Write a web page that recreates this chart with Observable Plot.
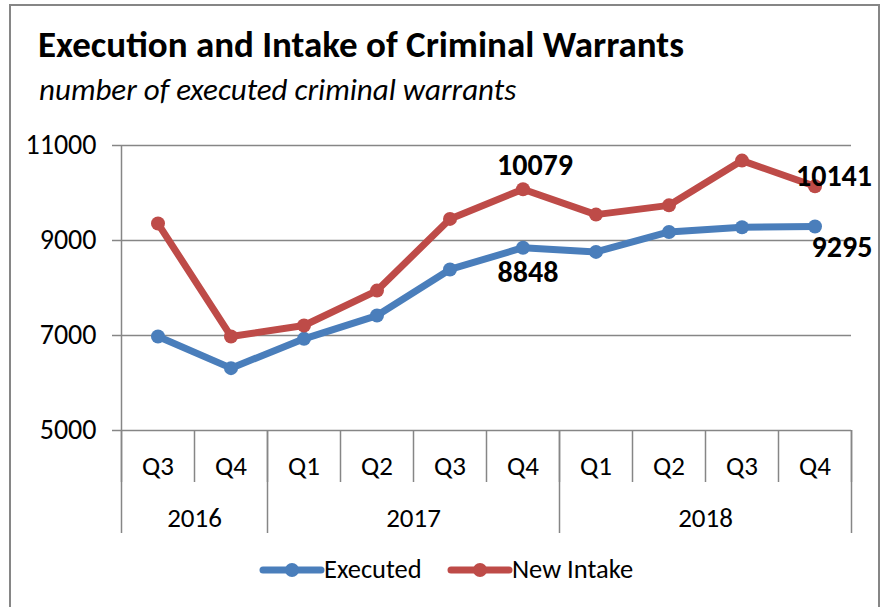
<!DOCTYPE html>
<html>
<head>
<meta charset="utf-8">
<script src="https://cdn.jsdelivr.net/npm/d3@7"></script>
<script src="https://cdn.jsdelivr.net/npm/@observablehq/plot@0.6"></script>
<style>
  html, body { margin: 0; padding: 0; background: #fff; overflow: hidden; }
  #wrap { position: relative; width: 883px; height: 607px; overflow: hidden; font-family: Carlito, Lato, sans-serif; }
  #wrap > svg { position: absolute; left: 0; top: 0; }
</style>
</head>
<body>
<div id="wrap"></div>
<script>
// ---- data ----
const quarters = ["Q3", "Q4", "Q1", "Q2", "Q3", "Q4", "Q1", "Q2", "Q3", "Q4"];
const years = ["2016", "2016", "2017", "2017", "2017", "2017", "2018", "2018", "2018", "2018"];
const executed = [6980, 6313, 6930, 7420, 8390, 8848, 8760, 9180, 9278, 9295];
const newIntake = [9357, 6980, 7210, 7945, 9455, 10079, 9545, 9740, 10682, 10141];
const yTicks = [5000, 7000, 9000, 11000];
const seriesNames = ["Executed", "New Intake"];
const titleText = "Execution and Intake of Criminal Warrants";
const subtitleText = "number of executed criminal warrants";

// ---- derived table ----
const rows = quarters.map((q, i) => ({i, x: i + 0.5, q, year: years[i], executed: executed[i], newIntake: newIntake[i]}));
const n = quarters.length;
const sepTicks = d3.range(0, n + 1);
const yearGroups = d3.groups(rows, d => d.year).map(([year, rs]) => ({year, start: rs[0].i, end: rs[rs.length - 1].i + 1}));
const yearBounds = [0, ...yearGroups.map(g => g.end)];
const yearCenters = yearGroups.map(g => (g.start + g.end) / 2);
const yearByCenter = new Map(yearGroups.map(g => [(g.start + g.end) / 2, g.year]));

const BLUE = "#4a7ebb", RED = "#be4b48", GRID = "#868686";
const FONT = "Carlito, Lato, sans-serif";
const last = n - 1;
const peak = rows.findIndex(r => r.newIntake === 10079);

const chart = Plot.plot({
  width: 883,
  height: 607,
  marginLeft: 121,
  marginRight: 32,
  marginTop: 145,
  marginBottom: 177,
  style: {fontFamily: FONT, fontSize: "27px", color: "#000", background: "transparent", overflow: "visible"},
  x: {type: "linear", domain: [0, n]},
  y: {domain: [5000, 11000]},
  marks: [
    Plot.gridY(yTicks, {stroke: GRID, strokeOpacity: 1, strokeWidth: 1.5}),
    Plot.axisY(yTicks, {tickSize: 9, tickPadding: 16, stroke: GRID, strokeWidth: 1.5, fontSize: 28, label: null, tickFormat: d => String(d)}),
    Plot.ruleX([0], {y1: 5000, y2: 11000, stroke: GRID, strokeWidth: 1.5}),
    Plot.axisX(sepTicks, {tickSize: 52, stroke: GRID, strokeWidth: 1.5, tickFormat: () => "", label: null}),
    Plot.axisX(yearBounds, {tickSize: 103, stroke: GRID, strokeWidth: 1.5, tickFormat: () => "", label: null}),
    Plot.axisX(rows.map(r => r.x), {tickSize: 0, tickPadding: 25, fontSize: 27, tickFormat: d => quarters[Math.floor(d)], label: null}),
    Plot.axisX(yearCenters, {tickSize: 0, tickPadding: 77, fontSize: 27, tickFormat: d => yearByCenter.get(d), label: null}),
    Plot.line(rows, {x: "x", y: "executed", stroke: BLUE, strokeWidth: 7, strokeLinejoin: "round"}),
    Plot.dot(rows, {x: "x", y: "executed", r: 7, fill: BLUE}),
    Plot.line(rows, {x: "x", y: "newIntake", stroke: RED, strokeWidth: 7, strokeLinejoin: "round"}),
    Plot.dot(rows, {x: "x", y: "newIntake", r: 7, fill: RED}),
    Plot.text(rows.filter(r => r.i === peak), {x: "x", y: "newIntake", text: d => String(d.newIntake), dx: 12, dy: -24, fontSize: 30, fontWeight: "bold", fill: "#000"}),
    Plot.text(rows.filter(r => r.i === peak), {x: "x", y: "executed", text: d => String(d.executed), dx: 5, dy: 25, fontSize: 30, fontWeight: "bold", fill: "#000"}),
    Plot.text(rows.filter(r => r.i === last), {x: "x", y: "newIntake", text: d => String(d.newIntake), dx: 19, dy: -10, fontSize: 30, fontWeight: "bold", fill: "#000"}),
    Plot.text(rows.filter(r => r.i === last), {x: "x", y: "executed", text: d => String(d.executed), dx: 27, dy: 21, fontSize: 30, fontWeight: "bold", fill: "#000"})
  ]
});

const wrap = document.getElementById("wrap");
wrap.appendChild(chart);

// ---- overlay: frame, title, subtitle, legend ----
const ns = "http://www.w3.org/2000/svg";
const ov = d3.create("svg").attr("width", 883).attr("height", 607).attr("xmlns", ns).style("font-family", FONT);
ov.append("rect").attr("x", 10).attr("y", 5).attr("width", 869).attr("height", 640)
  .attr("fill", "none").attr("stroke", GRID).attr("stroke-width", 2);
ov.append("text").attr("x", 38).attr("y", 57).attr("font-size", 37).attr("font-weight", "bold").text(titleText);
ov.append("text").attr("x", 39).attr("y", 100).attr("font-size", 31).attr("font-style", "italic").text(subtitleText);

const legendItems = [
  {name: seriesNames[0], color: BLUE, x0: 263},
  {name: seriesNames[1], color: RED, x0: 451}
];
for (const it of legendItems) {
  const g = ov.append("g");
  g.append("line").attr("x1", it.x0).attr("x2", it.x0 + 58).attr("y1", 570).attr("y2", 570)
    .attr("stroke", it.color).attr("stroke-width", 7).attr("stroke-linecap", "round");
  g.append("circle").attr("cx", it.x0 + 29).attr("cy", 570).attr("r", 7).attr("fill", it.color);
  g.append("text").attr("x", it.x0 + 61).attr("y", 578).attr("font-size", 26.5).text(it.name);
}
wrap.appendChild(ov.node());
</script>
</body>
</html>
